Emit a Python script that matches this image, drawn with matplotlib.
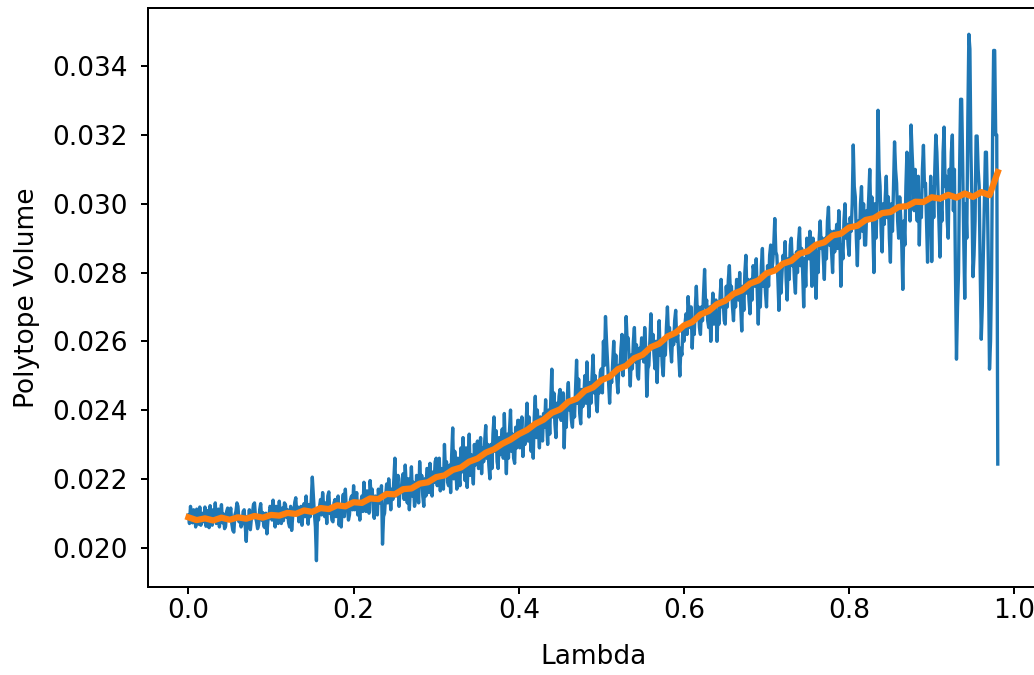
import numpy as np
import matplotlib.pyplot as plt

# notebook-style defaults, scaled up for a 100 dpi canvas
plt.rcParams.update({
    "font.size": 19,
    "lines.linewidth": 2.4,
    "axes.linewidth": 1.44,
    "xtick.major.size": 5.0,
    "ytick.major.size": 5.0,
    "xtick.major.width": 1.44,
    "ytick.major.width": 1.44,
    "xtick.major.pad": 3.0,
    "ytick.major.pad": 9.5,
})

# sampled polytope volumes, lambda step 0.00125 from 0 to 0.98
volume_samples = [
    0.02095, 0.02070, 0.02120, 0.02088, 0.02072, 0.02110, 0.02105, 0.02060, 0.02112, 0.02092,
    0.02068, 0.02118, 0.02065, 0.02095, 0.02100, 0.02075, 0.02118, 0.02062, 0.02080, 0.02108,
    0.02058, 0.02122, 0.02090, 0.02065, 0.02110, 0.02085, 0.02130, 0.02070, 0.02075, 0.02112,
    0.02060, 0.02095, 0.02125, 0.02072, 0.02098, 0.02055, 0.02062, 0.02105, 0.02115, 0.02080,
    0.02098, 0.02115, 0.02070, 0.02050, 0.02045, 0.02095, 0.02105, 0.02130, 0.02120, 0.02075,
    0.02085, 0.02060, 0.02070, 0.02105, 0.02110, 0.02065, 0.02018, 0.02090, 0.02060, 0.02110,
    0.02052, 0.02085, 0.02100, 0.02125, 0.02130, 0.02088, 0.02075, 0.02055, 0.02066, 0.02110,
    0.02128, 0.02080, 0.02102, 0.02062, 0.02058, 0.02100, 0.02040, 0.02078, 0.02090, 0.02120,
    0.02115, 0.02080, 0.02138, 0.02100, 0.02060, 0.02120, 0.02095, 0.02070, 0.02135, 0.02090,
    0.02070, 0.02115, 0.02078, 0.02130, 0.02125, 0.02088, 0.02110, 0.02072, 0.02060, 0.02120,
    0.02050, 0.02090, 0.02100, 0.02132, 0.02145, 0.02095, 0.02118, 0.02075, 0.02085, 0.02120,
    0.02065, 0.02105, 0.02128, 0.02090, 0.02150, 0.02100, 0.02068, 0.02125, 0.02090, 0.02140,
    0.02205, 0.02150, 0.02100, 0.02060, 0.01962, 0.02100, 0.02080, 0.02120, 0.02140, 0.02095,
    0.02160, 0.02120, 0.02090, 0.02130, 0.02070, 0.02150, 0.02162, 0.02100, 0.02110, 0.02080,
    0.02075, 0.02130, 0.02140, 0.02090, 0.02118, 0.02150, 0.02065, 0.02110, 0.02060, 0.02125,
    0.02155, 0.02090, 0.02170, 0.02110, 0.02120, 0.02080, 0.02095, 0.02140, 0.02150, 0.02110,
    0.02180, 0.02110, 0.02135, 0.02160, 0.02095, 0.02120, 0.02080, 0.02130, 0.02150, 0.02105,
    0.02190, 0.02140, 0.02105, 0.02165, 0.02125, 0.02100, 0.02195, 0.02150, 0.02170, 0.02110,
    0.02085, 0.02150, 0.02120, 0.02095, 0.02170, 0.02130, 0.02140, 0.02180, 0.02010, 0.02090,
    0.02100, 0.02150, 0.02185, 0.02130, 0.02200, 0.02160, 0.02110, 0.02170, 0.02140, 0.02200,
    0.02260, 0.02150, 0.02180, 0.02210, 0.02120, 0.02170, 0.02160, 0.02200, 0.02215, 0.02140,
    0.02240, 0.02180, 0.02130, 0.02200, 0.02110, 0.02170, 0.02235, 0.02150, 0.02190, 0.02120,
    0.02140, 0.02210, 0.02170, 0.02130, 0.02250, 0.02180, 0.02210, 0.02150, 0.02120, 0.02200,
    0.02150, 0.02230, 0.02230, 0.02160, 0.02245, 0.02190, 0.02150, 0.02220, 0.02190, 0.02250,
    0.02260, 0.02180, 0.02210, 0.02260, 0.02165, 0.02230, 0.02200, 0.02170, 0.02300, 0.02220,
    0.02250, 0.02190, 0.02180, 0.02240, 0.02160, 0.02270, 0.02348, 0.02200, 0.02280, 0.02230,
    0.02170, 0.02260, 0.02210, 0.02180, 0.02290, 0.02220, 0.02320, 0.02250, 0.02195, 0.02290,
    0.02175, 0.02240, 0.02330, 0.02210, 0.02270, 0.02230, 0.02185, 0.02300, 0.02240, 0.02290,
    0.02310, 0.02230, 0.02265, 0.02320, 0.02215, 0.02290, 0.02250, 0.02310, 0.02355, 0.02260,
    0.02300, 0.02240, 0.02200, 0.02300, 0.02230, 0.02330, 0.02380, 0.02280, 0.02340, 0.02250,
    0.02230, 0.02320, 0.02270, 0.02300, 0.02345, 0.02260, 0.02390, 0.02290, 0.02215, 0.02330,
    0.02260, 0.02340, 0.02400, 0.02280, 0.02330, 0.02260, 0.02245, 0.02350, 0.02290, 0.02370,
    0.02370, 0.02290, 0.02320, 0.02380, 0.02265, 0.02330, 0.02300, 0.02360, 0.02420, 0.02310,
    0.02380, 0.02320, 0.02280, 0.02350, 0.02260, 0.02380, 0.02440, 0.02320, 0.02400, 0.02340,
    0.02290, 0.02380, 0.02340, 0.02310, 0.02390, 0.02350, 0.02430, 0.02360, 0.02300, 0.02400,
    0.02330, 0.02430, 0.02519, 0.02380, 0.02450, 0.02360, 0.02320, 0.02420, 0.02380, 0.02440,
    0.02460, 0.02370, 0.02400, 0.02450, 0.02290, 0.02400, 0.02350, 0.02440, 0.02480, 0.02400,
    0.02420, 0.02370, 0.02350, 0.02430, 0.02380, 0.02460, 0.02545, 0.02420, 0.02490, 0.02390,
    0.02360, 0.02460, 0.02410, 0.02440, 0.02500, 0.02420, 0.02540, 0.02450, 0.02380, 0.02480,
    0.02420, 0.02500, 0.02560, 0.02450, 0.02500, 0.02420, 0.02395, 0.02480, 0.02450, 0.02510,
    0.02520, 0.02450, 0.02600, 0.02530, 0.02672, 0.02600, 0.02540, 0.02480, 0.02420, 0.02500,
    0.02480, 0.02540, 0.02600, 0.02510, 0.02560, 0.02490, 0.02450, 0.02530, 0.02520, 0.02580,
    0.02620, 0.02500, 0.02580, 0.02540, 0.02672, 0.02600, 0.02610, 0.02540, 0.02470, 0.02560,
    0.02520, 0.02600, 0.02640, 0.02540, 0.02590, 0.02500, 0.02490, 0.02580, 0.02550, 0.02610,
    0.02600, 0.02540, 0.02640, 0.02580, 0.02440, 0.02520, 0.02530, 0.02600, 0.02680, 0.02580,
    0.02620, 0.02560, 0.02520, 0.02600, 0.02480, 0.02580, 0.02660, 0.02560, 0.02600, 0.02530,
    0.02500, 0.02600, 0.02560, 0.02640, 0.02700, 0.02620, 0.02640, 0.02580, 0.02540, 0.02620,
    0.02590, 0.02660, 0.02690, 0.02600, 0.02620, 0.02560, 0.02499, 0.02580, 0.02560, 0.02640,
    0.02600, 0.02650, 0.02680, 0.02620, 0.02730, 0.02680, 0.02640, 0.02700, 0.02580, 0.02660,
    0.02620, 0.02700, 0.02760, 0.02680, 0.02700, 0.02640, 0.02620, 0.02700, 0.02660, 0.02740,
    0.02809, 0.02700, 0.02720, 0.02660, 0.02640, 0.02700, 0.02600, 0.02680, 0.02740, 0.02650,
    0.02690, 0.02720, 0.02600, 0.02680, 0.02650, 0.02730, 0.02780, 0.02700, 0.02720, 0.02660,
    0.02650, 0.02760, 0.02700, 0.02780, 0.02820, 0.02740, 0.02760, 0.02700, 0.02660, 0.02740,
    0.02700, 0.02780, 0.02760, 0.02720, 0.02800, 0.02700, 0.02630, 0.02760, 0.02690, 0.02800,
    0.02850, 0.02740, 0.02780, 0.02720, 0.02680, 0.02780, 0.02720, 0.02820, 0.02800, 0.02760,
    0.02840, 0.02740, 0.02650, 0.02780, 0.02700, 0.02820, 0.02870, 0.02760, 0.02800, 0.02740,
    0.02700, 0.02820, 0.02760, 0.02850, 0.02880, 0.02800, 0.02830, 0.02880, 0.02957, 0.02860,
    0.02850, 0.02780, 0.02690, 0.02820, 0.02740, 0.02800, 0.02850, 0.02830, 0.02890, 0.02780,
    0.02720, 0.02840, 0.02780, 0.02880, 0.02900, 0.02820, 0.02850, 0.02780, 0.02740, 0.02860,
    0.02800, 0.02890, 0.02930, 0.02820, 0.02870, 0.02800, 0.02700, 0.02840, 0.02760, 0.02900,
    0.02880, 0.02840, 0.02920, 0.02860, 0.02760, 0.02900, 0.02820, 0.02880, 0.02725, 0.02860,
    0.02800, 0.02900, 0.02950, 0.02870, 0.02900, 0.02840, 0.02780, 0.02900, 0.02840, 0.02950,
    0.02990, 0.02880, 0.02920, 0.02860, 0.02800, 0.02920, 0.02860, 0.02900, 0.02940, 0.02870,
    0.02980, 0.02900, 0.02760, 0.02880, 0.02840, 0.02950, 0.03000, 0.02900, 0.02940, 0.02880,
    0.02850, 0.02960, 0.02920, 0.03000, 0.03171, 0.03050, 0.03020, 0.02900, 0.02820, 0.02950,
    0.02900, 0.03000, 0.03050, 0.02920, 0.03000, 0.02880, 0.02880, 0.02980, 0.02950, 0.03020,
    0.03100, 0.02960, 0.03020, 0.02920, 0.02800, 0.03000, 0.02900, 0.02980, 0.03272, 0.03100,
    0.03050, 0.02920, 0.02860, 0.03000, 0.02940, 0.03020, 0.03080, 0.02960, 0.03020, 0.02900,
    0.02830, 0.03000, 0.02920, 0.03050, 0.03180, 0.03100, 0.03060, 0.02950, 0.02900, 0.03020,
    0.02960, 0.02880, 0.02751, 0.02950, 0.02880, 0.03050, 0.03150, 0.03000, 0.03050, 0.02950,
    0.03229, 0.03150, 0.03080, 0.02980, 0.03100, 0.03000, 0.02950, 0.03080, 0.02880, 0.03020,
    0.02960, 0.03100, 0.03170, 0.03050, 0.03060, 0.02950, 0.02830, 0.03000, 0.02920, 0.03080,
    0.02832, 0.03050, 0.02960, 0.03100, 0.03200, 0.03150, 0.03050, 0.02950, 0.02845, 0.03000,
    0.02950, 0.03150, 0.03223, 0.03050, 0.03080, 0.02950, 0.02900, 0.03100, 0.03020, 0.03150,
    0.03200, 0.02980, 0.03100, 0.02800, 0.02548, 0.02700, 0.02800, 0.03100, 0.03304, 0.03304,
    0.03120, 0.02900, 0.02725, 0.03000, 0.02900, 0.03250, 0.03493, 0.03450, 0.03150, 0.03000,
    0.02788, 0.02850, 0.02950, 0.03197, 0.03197, 0.03100, 0.03050, 0.02800, 0.02606, 0.02700,
    0.02850, 0.03000, 0.03150, 0.03150, 0.03000, 0.02800, 0.02519, 0.02600, 0.02800, 0.03200,
    0.03446, 0.03446, 0.03200, 0.03200, 0.02243,
]

# smoothed volume estimate, lambda step 0.01 from 0 to 0.98
volume_smooth = [
    0.02088, 0.02080, 0.02085, 0.02079, 0.02087, 0.02081, 0.02088, 0.02084, 0.02092, 0.02087,
    0.02095, 0.02093, 0.02101, 0.02098, 0.02108, 0.02104, 0.02115, 0.02112, 0.02123, 0.02120,
    0.02132, 0.02130, 0.02143, 0.02141, 0.02156, 0.02155, 0.02170, 0.02172, 0.02186, 0.02190,
    0.02205, 0.02210, 0.02226, 0.02233, 0.02250, 0.02259, 0.02276, 0.02286, 0.02302, 0.02314,
    0.02330, 0.02342, 0.02360, 0.02372, 0.02392, 0.02402, 0.02424, 0.02433, 0.02456, 0.02466,
    0.02487, 0.02497, 0.02519, 0.02529, 0.02551, 0.02561, 0.02583, 0.02593, 0.02614, 0.02625,
    0.02646, 0.02656, 0.02678, 0.02688, 0.02708, 0.02718, 0.02738, 0.02748, 0.02768, 0.02777,
    0.02798, 0.02806, 0.02826, 0.02834, 0.02855, 0.02862, 0.02881, 0.02888, 0.02908, 0.02913,
    0.02931, 0.02936, 0.02953, 0.02958, 0.02973, 0.02976, 0.02991, 0.02993, 0.03006, 0.03005,
    0.03019, 0.03015, 0.03026, 0.03018, 0.03030, 0.03020, 0.03034, 0.03025, 0.03092,
]

lam_samples = np.linspace(0, 0.98, len(volume_samples))
lam_smooth = np.linspace(0, 0.98, len(volume_smooth))

fig = plt.figure(figsize=(10.34, 6.75), dpi=100)
ax = fig.add_axes([0.1431, 0.1304, 0.861, 0.8578])

ax.plot(lam_samples, volume_samples, color="C0")
ax.plot(lam_smooth, volume_smooth, color="C1", linewidth=4.5)

ax.set_xlabel("Lambda", labelpad=14)
ax.set_ylabel("Polytope Volume", labelpad=9)
ax.set_xticks([0.0, 0.2, 0.4, 0.6, 0.8, 1.0])
ax.set_yticks([0.020, 0.022, 0.024, 0.026, 0.028, 0.030, 0.032, 0.034])

fig.savefig("out.png", dpi=100)
